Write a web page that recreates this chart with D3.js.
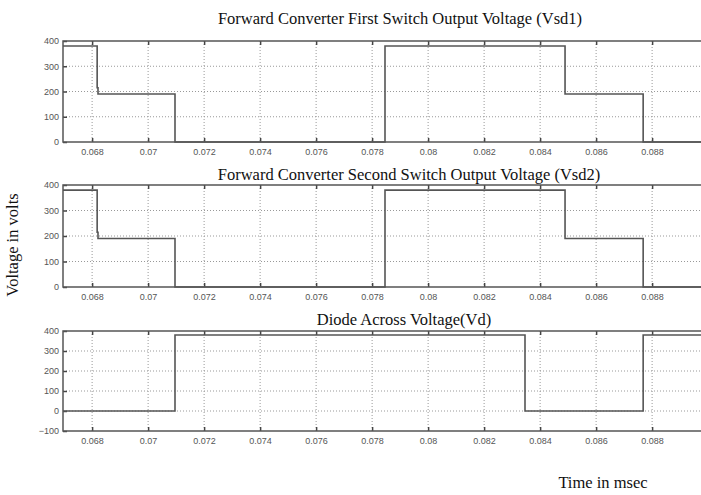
<!DOCTYPE html>
<html>
<head>
<meta charset="utf-8">
<script src="https://cdn.jsdelivr.net/npm/d3@7"></script>
<style>
body { margin: 0; background: #fff; }
svg { display: block; }
.tick text { font-family: "Liberation Sans", Arial, sans-serif; font-size: 9px; fill: #555; }
.ttl { font-family: "Liberation Serif", "Times New Roman", serif; font-size: 16.5px; fill: #111; }
</style>
</head>
<body>
<div id="chart"></div>
<script>
// time ticks (sec) and voltage ticks
var xTicks = [0.068, 0.07, 0.072, 0.074, 0.076, 0.078, 0.08, 0.082, 0.084, 0.086, 0.088];
var xTickLabels = ["0.068", "0.07", "0.072", "0.074", "0.076", "0.078", "0.08", "0.082", "0.084", "0.086", "0.088"];
var yTicksA = [0, 100, 200, 300, 400];
var yTicksB = [-100, 0, 100, 200, 300, 400];

// step traces: time where each level starts, and the level
var vsd1Time = [0.06696, 0.06818, 0.06821, 0.07096, 0.07846, 0.08489, 0.08768, 0.0899];
var vsd1Volt = [380, 215, 190, 0, 380, 190, 0, 0];
var vsd2Time = [0.06696, 0.06818, 0.06821, 0.07096, 0.07846, 0.08489, 0.08768, 0.0899];
var vsd2Volt = [380, 215, 190, 0, 380, 190, 0, 0];
var vdTime = [0.06696, 0.07096, 0.08346, 0.08768, 0.0899];
var vdVolt = [0, 380, 0, 380, 380];

var titles = [
    "Forward Converter First Switch Output Voltage (Vsd1)",
    "Forward Converter Second Switch Output Voltage (Vsd2)",
    "Diode Across Voltage(Vd)"
];

var W = 701, H = 495;
var svg = d3.select("#chart").append("svg")
    .attr("width", W)
    .attr("height", H);

var panels = [
    { top: 41, bottom: 142, yDom: [0, 400], ticks: yTicksA, t: vsd1Time, v: vsd1Volt, title: titles[0], tx: 400, ty: 24 },
    { top: 185, bottom: 287, yDom: [0, 400], ticks: yTicksA, t: vsd2Time, v: vsd2Volt, title: titles[1], tx: 409, ty: 180 },
    { top: 331, bottom: 431, yDom: [-100, 400], ticks: yTicksB, t: vdTime, v: vdVolt, title: titles[2], tx: 404, ty: 325 }
];

var left = 63;
var x = d3.scaleLinear()
    .domain([0.06696, 0.0899])
    .range([left, left + (0.0899 - 0.06696) * 28000]);

svg.append("clipPath").attr("id", "clip")
    .append("rect").attr("x", left).attr("y", 0).attr("width", W - left).attr("height", H);

panels.forEach(function (p, k) {
    var y = d3.scaleLinear().domain(p.yDom).range([p.bottom, p.top]);
    var g = svg.append("g");

    // grid
    g.append("g").selectAll("line.vg")
        .data(xTicks).enter().append("line")
        .attr("x1", function (d) { return x(d); })
        .attr("x2", function (d) { return x(d); })
        .attr("y1", p.top).attr("y2", p.bottom)
        .attr("stroke", "#999").attr("stroke-width", 1)
        .attr("stroke-dasharray", "1,2");
    g.append("g").selectAll("line.hg")
        .data(p.ticks.slice(1, -1)).enter().append("line")
        .attr("x1", left).attr("x2", W)
        .attr("y1", function (d) { return y(d); })
        .attr("y2", function (d) { return y(d); })
        .attr("stroke", "#999").attr("stroke-width", 1)
        .attr("stroke-dasharray", "1,2");

    // axes
    var xAxis = d3.axisBottom(x).tickValues(xTicks)
        .tickFormat(function (d, i) { return xTickLabels[i]; })
        .tickSizeInner(-4).tickSizeOuter(0).tickPadding(7);
    var gx = g.append("g")
        .attr("transform", "translate(0," + p.bottom + ")")
        .call(xAxis);
    gx.select(".domain").remove();
    gx.selectAll(".tick line").attr("stroke", "#444").attr("stroke-width", 1.5);

    var xTop = d3.axisTop(x).tickValues(xTicks).tickFormat("")
        .tickSizeInner(-4).tickSizeOuter(0);
    var gxt = g.append("g")
        .attr("transform", "translate(0," + p.top + ")")
        .call(xTop);
    gxt.select(".domain").remove();
    gxt.selectAll(".tick line").attr("stroke", "#444").attr("stroke-width", 1.5);

    var yAxis = d3.axisLeft(y).tickValues(p.ticks)
        .tickSizeInner(-4).tickSizeOuter(0).tickPadding(4);
    var gy = g.append("g")
        .attr("transform", "translate(" + left + ",0)")
        .call(yAxis);
    gy.select(".domain").remove();
    gy.selectAll(".tick line").attr("stroke", "#444").attr("stroke-width", 1.5);

    // box (no right edge, cut by the picture)
    g.append("path")
        .attr("d", "M" + W + "," + p.top + "H" + left + "V" + p.bottom + "H" + W)
        .attr("fill", "none").attr("stroke", "#555").attr("stroke-width", 1.5);

    // trace
    var pts = p.t.map(function (t, i) { return [t, p.v[i]]; });
    var line = d3.line()
        .x(function (d) { return x(d[0]); })
        .y(function (d) { return y(d[1]); })
        .curve(d3.curveStepAfter);
    g.append("path")
        .datum(pts)
        .attr("clip-path", "url(#clip)")
        .attr("d", line)
        .attr("fill", "none")
        .attr("stroke", "#555")
        .attr("stroke-width", 1.6);

    // title
    svg.append("text").attr("class", "ttl")
        .attr("x", p.tx).attr("y", p.ty)
        .attr("text-anchor", "middle")
        .text(p.title);
});

svg.append("text").attr("class", "ttl")
    .attr("transform", "translate(18,245) rotate(-90)")
    .attr("text-anchor", "middle")
    .text("Voltage in volts");

svg.append("text").attr("class", "ttl")
    .attr("x", 603).attr("y", 488)
    .attr("text-anchor", "middle")
    .text("Time in msec");
</script>
</body>
</html>
